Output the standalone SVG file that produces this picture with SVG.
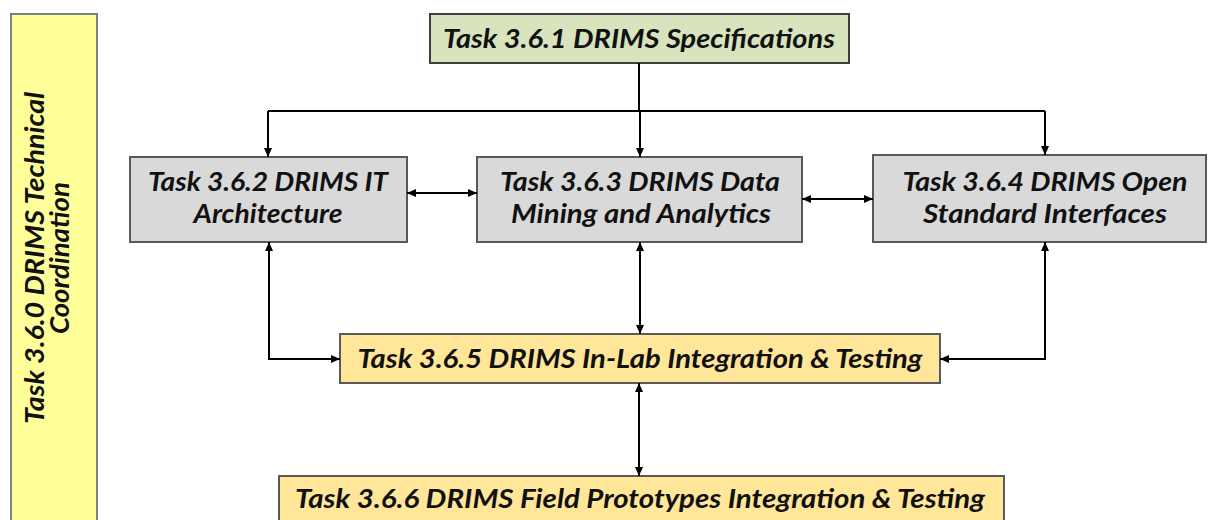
<svg xmlns="http://www.w3.org/2000/svg" width="1210" height="520" viewBox="0 0 1210 520">
<style>
.t{font-family:Lato,"Open Sans","Liberation Sans",sans-serif;font-weight:bold;font-style:italic;font-size:26px;fill:#111;text-anchor:middle}
.gray{fill:#D9D9D9;stroke:#595959;stroke-width:2}
.gold{fill:#FFE699;stroke:#595959;stroke-width:2}
.c{fill:none;stroke:#000;stroke-width:2}
</style>
<defs>
<marker id="ah" markerUnits="userSpaceOnUse" markerWidth="10" markerHeight="10" refX="9" refY="4" orient="auto-start-reverse">
<path d="M0,0 L9,4 L0,8 z" fill="#000"/>
</marker>
</defs>
<g id="bar">
<rect x="11" y="14" width="86" height="520" fill="#FFFF99" stroke="#808080" stroke-width="2"/>
<text class="t" transform="translate(44,258) rotate(-90)" textLength="332" lengthAdjust="spacingAndGlyphs">Task 3.6.0 DRIMS Technical</text>
<text class="t" transform="translate(69,258) rotate(-90)" textLength="152" lengthAdjust="spacingAndGlyphs">Coordination</text>
</g>
<g id="n361">
<rect x="430" y="14" width="419" height="49" fill="#D7E4BD" stroke="#3F3F3F" stroke-width="2"/>
<text class="t" x="639" y="48" textLength="392" lengthAdjust="spacingAndGlyphs">Task 3.6.1 DRIMS Specifications</text>
</g>
<g id="n362">
<rect class="gray" x="130" y="157" width="277" height="85"/>
<text class="t" x="268" y="191" textLength="240" lengthAdjust="spacingAndGlyphs">Task 3.6.2 DRIMS IT</text>
<text class="t" x="268" y="223" textLength="149" lengthAdjust="spacingAndGlyphs">Architecture</text>
</g>
<g id="n363">
<rect class="gray" x="477" y="157" width="325" height="85"/>
<text class="t" x="640" y="191" textLength="280" lengthAdjust="spacingAndGlyphs">Task 3.6.3 DRIMS Data</text>
<text class="t" x="641" y="223" textLength="260" lengthAdjust="spacingAndGlyphs">Mining and Analytics</text>
</g>
<g id="n364">
<rect class="gray" x="873" y="155" width="333" height="87"/>
<text class="t" x="1045" y="191" textLength="285" lengthAdjust="spacingAndGlyphs">Task 3.6.4 DRIMS Open</text>
<text class="t" x="1045" y="223" textLength="244" lengthAdjust="spacingAndGlyphs">Standard Interfaces</text>
</g>
<g id="n365">
<rect class="gold" x="340" y="334" width="600" height="49"/>
<text class="t" x="640" y="368" textLength="565" lengthAdjust="spacingAndGlyphs">Task 3.6.5 DRIMS In-Lab Integration &amp; Testing</text>
</g>
<g id="n366">
<rect class="gold" x="279" y="476" width="725" height="60"/>
<text class="t" x="640" y="508" textLength="690" lengthAdjust="spacingAndGlyphs">Task 3.6.6 DRIMS Field Prototypes Integration &amp; Testing</text>
</g>
<g id="connectors">
<path class="c" d="M639,63 V111 M268,111 H1045"/>
<path class="c" d="M268,111 V157" marker-end="url(#ah)"/>
<path class="c" d="M640,111 V157" marker-end="url(#ah)"/>
<path class="c" d="M1045,111 V155" marker-end="url(#ah)"/>
<path class="c" d="M407,193 H477" marker-start="url(#ah)" marker-end="url(#ah)"/>
<path class="c" d="M802,199 H873" marker-start="url(#ah)" marker-end="url(#ah)"/>
<path class="c" d="M269,242 V359 H340" marker-start="url(#ah)" marker-end="url(#ah)"/>
<path class="c" d="M640,242 V334" marker-start="url(#ah)" marker-end="url(#ah)"/>
<path class="c" d="M1045,242 V359 H940" marker-start="url(#ah)" marker-end="url(#ah)"/>
<path class="c" d="M639,383 V476" marker-start="url(#ah)" marker-end="url(#ah)"/>
</g>
</svg>
